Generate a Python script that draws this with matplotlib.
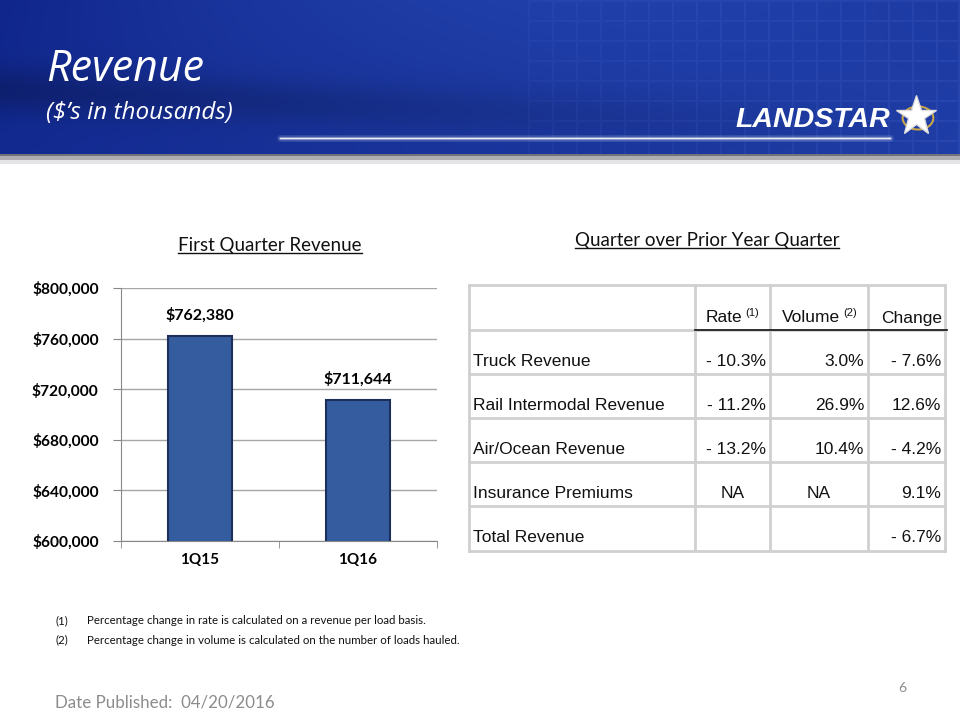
import numpy as np
import matplotlib.pyplot as plt
from matplotlib.lines import Line2D
from matplotlib.patches import Circle

# chart data
quarters = ['1Q15', '1Q16']
revenue = [762380, 711644]
y_ticks = [600000, 640000, 680000, 720000, 760000, 800000]

# table data
row_labels = ['Truck Revenue', 'Rail Intermodal Revenue', 'Air/Ocean Revenue',
              'Insurance Premiums', 'Total Revenue']
rate = ['- 10.3%', '- 11.2%', '- 13.2%', 'NA', '']
volume = ['3.0%', '26.9%', '10.4%', 'NA', '']
change = ['- 7.6%', '12.6%', '- 4.2%', '9.1%', '- 6.7%']

footnotes = ['Percentage change in rate is calculated on a revenue per load basis.',
             'Percentage change in volume is calculated on the number of loads hauled.']

W, H = 960, 720
fig = plt.figure(figsize=(9.6, 7.2), dpi=100)
fig.patch.set_facecolor('white')


def fx(px):
    return px / W


def fy(py):
    return 1 - py / H


# ---- header band ----
hax = fig.add_axes([0, fy(164), 1, 164 / H])
hax.set_axis_off()
nx, ny = 480, 82
xx, yy = np.meshgrid(np.linspace(0, 1, nx), np.linspace(0, 1, ny))
base = np.array([16, 38, 140]) / 255
light = np.array([42, 78, 185]) / 255
t = np.clip(0.5 * xx + 0.35 * np.sin(np.pi * xx) * (1 - yy) + 0.1 * yy, 0, 1)
img = base[None, None, :] * (1 - t[..., None]) + light[None, None, :] * t[..., None]
# dark swoosh through the middle
sw = np.exp(-((yy - (0.55 + 0.25 * xx)) ** 2) / 0.02) * 0.22 * (1 - xx)
img = img * (1 - sw[..., None])
# faint grid on the right
gx = (((xx * nx) % 12) < 1) & (xx > 0.55)
gy = (((yy * ny) % 10) < 1) & (xx > 0.55)
img[gx | gy] = np.clip(img[gx | gy] + 0.035 * xx[gx | gy][:, None], 0, 1)
# grey shadow strip at the bottom
img[yy > 0.94] = np.array([0.45, 0.45, 0.48])
img[yy > 0.96] = np.array([0.68, 0.68, 0.70])
img[yy > 0.98] = np.array([0.9, 0.9, 0.91])
hax.imshow(img, aspect='auto', extent=[0, 1, 0, 1], origin='upper')
hax.set_xlim(0, 1)
hax.set_ylim(0, 1)

fig.text(fx(46), fy(70), 'Revenue', color='white', fontsize=31, style='italic',
         family='Open Sans', va='center', ha='left')
fig.text(fx(46), fy(113), "($\u2019s in thousands)", color='white', fontsize=17.5,
         style='italic', family='Open Sans', va='center', ha='left')

# logo
for a, lw in [(0.12, 5), (0.3, 2.5), (0.85, 1)]:
    fig.add_artist(Line2D([fx(280), fx(890)], [fy(138), fy(138)], color='white',
                          lw=lw, alpha=a, solid_capstyle='round'))
fig.text(fx(735), fy(120), 'LANDSTAR', color='white', fontsize=20.5, weight='heavy',
         style='italic', family='Liberation Sans', va='center', ha='left')
fig.add_artist(Circle((fx(918), fy(118)), 0.016, transform=fig.transFigure,
                      fill=False, ec='#C9A64A', lw=1.5))
fig.add_artist(Line2D([fx(916)], [fy(116)], marker='*', markersize=30,
                      color='white', markeredgecolor='#DDDDDD'))

# ---- bar chart ----
ax = fig.add_axes([fx(121), fy(541), fx(437) - fx(121), (541 - 288) / H])
x = np.arange(len(quarters))
ax.bar(x + 0.012, revenue, width=0.4, color='#0E1E40', alpha=0.35, zorder=2)
bars = ax.bar(x, revenue, width=0.4, color='#355C9E', edgecolor='#1C2F5A',
              linewidth=1.5, zorder=3)
ax.set_xlim(-0.5, 1.5)
ax.set_ylim(600000, 800000)
ax.set_yticks(y_ticks)
ax.set_yticklabels(['${:,}'.format(v) for v in y_ticks], fontsize=11.2,
                   weight='bold', family='Lato')
ax.set_xticks(x)
ax.set_xticklabels(quarters, fontsize=11, weight='bold', family='Lato')
ax.set_xticks([-0.5, 0.5, 1.5], minor=True)
ax.tick_params(axis='x', which='major', length=0, pad=9)
ax.tick_params(axis='x', which='minor', length=5, color='#888888', direction='out')
ax.tick_params(axis='y', length=6, color='#888888', pad=10)
ax.grid(axis='y', color='#A6A6A6', lw=1, zorder=0)
for s in ['top', 'right']:
    ax.spines[s].set_visible(False)
ax.spines['left'].set_color('#888888')
ax.spines['bottom'].set_color('#888888')
for b, v in zip(bars, revenue):
    ax.annotate('${:,}'.format(v), (b.get_x() + b.get_width() / 2, v),
                xytext=(0, 9), textcoords='offset points', ha='center', va='bottom',
                fontsize=11.5, weight='bold', family='Lato')


# ---- titles with underline ----
def underlined(xc, yc, s, size):
    tx = fig.text(fx(xc), fy(yc), s, fontsize=size, family='Lato', ha='center',
                  va='center', color='#111111')
    fig.canvas.draw()
    bb = tx.get_window_extent()
    yline = bb.y0 + 1
    fig.add_artist(Line2D([bb.x0 / W, bb.x1 / W], [yline / H, yline / H],
                          color='#111111', lw=1))


underlined(270, 245, 'First Quarter Revenue', 13.5)
underlined(707, 241, 'Quarter over Prior Year Quarter', 13.5)

# ---- table ----
col_edges = [469, 695, 770, 868, 945]
row_edges = [285, 330, 374, 418, 462, 506, 551]
grid_c = '#D0D0D0'
for xe in col_edges:
    fig.add_artist(Line2D([fx(xe), fx(xe)], [fy(row_edges[0]), fy(row_edges[-1])],
                          color=grid_c, lw=2))
for ye in row_edges:
    fig.add_artist(Line2D([fx(col_edges[0]), fx(col_edges[-1])], [fy(ye), fy(ye)],
                          color=grid_c, lw=2))
fig.add_artist(Line2D([fx(695), fx(947)], [fy(330), fy(330)], color='#222222', lw=1.3))

tfont = dict(family='Liberation Sans', fontsize=12.5, color='#111111')
headers = [('Rate', '(1)', 742), ('Volume', '(2)', 840)]
for name, sup, xr in headers:
    fig.text(fx(xr), fy(318), name, ha='right', va='center', **tfont)
    fig.text(fx(xr + 3), fy(313), sup, ha='left', va='center',
             family='Liberation Sans', fontsize=8, color='#111111')
fig.text(fx(942), fy(318), 'Change', ha='right', va='center', **tfont)

for i, lab in enumerate(row_labels):
    yc = fy(row_edges[i + 2] - 13)
    fig.text(fx(473), yc, lab, ha='left', va='center', **tfont)
    for val, x0, x1 in [(rate[i], 695, 770), (volume[i], 770, 868), (change[i], 868, 945)]:
        if not val:
            continue
        if val == 'NA':
            fig.text(fx((x0 + x1) / 2), yc, val, ha='center', va='center', **tfont)
        else:
            fig.text(fx(x1 - 4), yc, val, ha='right', va='center', **tfont)

# ---- footnotes ----
for i, note in enumerate(footnotes):
    yy_ = fy(621 + 19 * i)
    fig.text(fx(55), yy_, '({})'.format(i + 1), fontsize=8.3, family='Lato',
             va='center', color='#111111')
    fig.text(fx(87), yy_, note, fontsize=8.3, family='Lato', va='center',
             color='#111111')

fig.text(fx(55), fy(703), 'Date Published:  04/20/2016', fontsize=12.2,
         family='Lato', color='#8C8C8C', va='center')
fig.text(fx(898), fy(688), '6', fontsize=10, family='Lato', color='#8C8C8C',
         va='center')

fig.savefig('out.png', dpi=100, facecolor='white')
